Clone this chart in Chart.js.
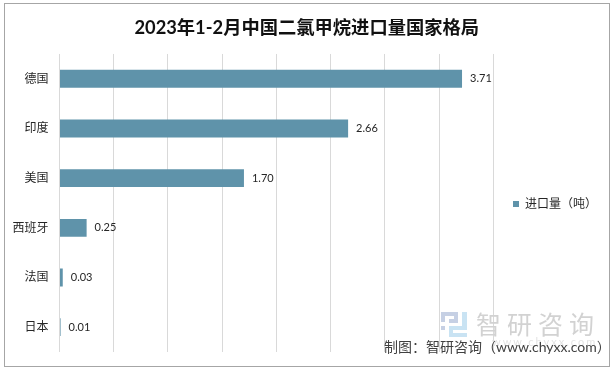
<!DOCTYPE html>
<html>
<head>
<meta charset="utf-8">
<style>
  html, body { margin: 0; padding: 0; background: #fff; }
  #wrap { position: relative; width: 614px; height: 372px; }
  #frame { position: absolute; left: 4px; top: 3px; width: 604px; height: 362px; border: 1px solid #a6a6a6; pointer-events: none; }
  #chart { position: absolute; left: 0; top: 0; }
</style>
<script src="https://cdn.jsdelivr.net/npm/chart.js@4/dist/chart.umd.min.js"></script>
</head>
<body>
<div id="wrap">
  <div id="frame"></div>
  <canvas id="chart" width="614" height="372"></canvas>
</div>
<script>
const FONT = 'Lato, "Noto Sans CJK SC", sans-serif';

const categories = ['德国', '印度', '美国', '西班牙', '法国', '日本'];
const imports = [3.71, 2.66, 1.70, 0.25, 0.03, 0.01];
const seriesName = '进口量（吨）';
const chartTitle = '2023年1-2月中国二氯甲烷进口量国家格局';
const sourceNote = '制图：智研咨询（www.chyxx.com）';
const watermark = '智研咨询';
const watermarkUrl = 'www.chyxx.com';

// legend sits lower and further right than Chart.js would put it, title centres on the page
const layoutShift = {
  id: 'layoutShift',
  afterLayout(chart) {
    const l = chart.legend;
    l.top += 28;
    l.bottom += 28;
    l.left += 13.5;
    l.right += 13.5;
    chart.titleBlock.left += 10;
    chart.titleBlock.right += 10;
  }
};

// value labels at the end of each bar
const barLabels = {
  id: 'barLabels',
  afterDatasetsDraw(chart) {
    const { ctx } = chart;
    ctx.save();
    ctx.font = '11px ' + FONT;
    ctx.fillStyle = '#262626';
    ctx.textAlign = 'left';
    ctx.textBaseline = 'middle';
    chart.getDatasetMeta(0).data.forEach((bar, i) => {
      ctx.fillText(imports[i].toFixed(2), bar.x + 8, bar.y);
    });
    ctx.restore();
  }
};

// logo + source line, sits over the grid bottom right
const branding = {
  id: 'branding',
  afterDraw(chart) {
    const { ctx } = chart;
    ctx.save();
    // logo, left half
    ctx.fillStyle = '#c6d0e4';
    ctx.fillRect(441, 312, 17, 4);
    ctx.fillRect(441, 312, 4, 10);
    ctx.fillRect(449, 319, 9, 4);
    ctx.fillRect(454, 312, 4, 10);
    ctx.fillRect(441, 326, 4, 4);
    // logo, right half
    ctx.fillStyle = '#c9e3f3';
    ctx.fillRect(462, 312, 5, 18);
    ctx.fillRect(449, 326, 18, 4);
    ctx.fillRect(449, 326, 4, 10);
    ctx.fillRect(449, 333, 18, 4);
    ctx.font = '25px "Noto Sans CJK SC"';
    ctx.fillStyle = '#d2d2d2';
    ctx.textAlign = 'left';
    ctx.textBaseline = 'middle';
    ctx.letterSpacing = '6px';
    ctx.fillText(watermark, 476, 324);
    ctx.letterSpacing = '2px';
    ctx.font = '11px ' + FONT;
    ctx.fillStyle = '#e4e4e4';
    ctx.fillText(watermarkUrl, 492, 342);
    ctx.letterSpacing = '0px';
    ctx.font = '14px ' + FONT;
    ctx.fillStyle = '#404040';
    ctx.fillText(sourceNote, 384, 347);
    ctx.restore();
  }
};

new Chart(document.getElementById('chart'), {
  type: 'bar',
  data: {
    labels: categories,
    datasets: [{
      label: seriesName,
      data: imports,
      backgroundColor: '#5f93aa',
      barPercentage: 0.9,
      categoryPercentage: 0.4
    }]
  },
  plugins: [layoutShift, barLabels, branding],
  options: {
    indexAxis: 'y',
    responsive: false,
    animation: false,
    layout: { padding: { top: 0, left: 0, right: 20.5, bottom: 20 } },
    plugins: {
      title: {
        display: true,
        text: chartTitle,
        font: { family: FONT, size: 18.3, weight: 'bold' },
        color: '#111111',
        padding: { top: 17, bottom: 15 }
      },
      legend: {
        position: 'right',
        labels: {
          boxWidth: 6,
          boxHeight: 6,
          padding: 6,
          color: '#262626',
          font: { family: FONT, size: 12 }
        }
      },
      tooltip: { enabled: false }
    },
    scales: {
      x: {
        min: 0,
        max: 4,
        ticks: { stepSize: 0.5, display: false },
        border: { display: false },
        grid: { color: '#d9d9d9', drawTicks: false }
      },
      y: {
        afterFit(axis) { axis.width = 59.5; },
        ticks: { color: '#262626', padding: 3, font: { family: FONT, size: 12 } },
        border: { display: false },
        grid: { display: false }
      }
    }
  }
});
</script>
</body>
</html>
